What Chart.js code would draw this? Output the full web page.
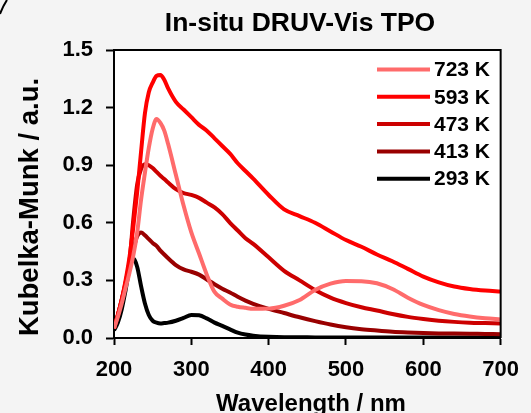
<!DOCTYPE html>
<html>
<head>
<meta charset="utf-8">
<script src="https://cdn.jsdelivr.net/npm/chart.js@4"></script>
<style>
  html, body { margin: 0; padding: 0; background: #f4f4f4; }
  #wrap { width: 531px; height: 413px; position: relative; }
</style>
</head>
<body>
<div id="wrap"><canvas id="c" width="531" height="413"></canvas></div>
<script>
const chartTitle = "In-situ DRUV-Vis TPO";
const xTitle = "Wavelength / nm";
const yTitle = "Kubelka-Munk / a.u.";
const seriesLabels = ["723 K", "593 K", "473 K", "413 K", "293 K"];
const seriesColors = ["#ff6b6b", "#ff0000", "#cc0000", "#990000", "#000000"];
const xTicks = [200, 300, 400, 500, 600, 700];
const yTicks = [0.0, 0.3, 0.6, 0.9, 1.2, 1.5];

const wavelength = [200, 205, 210, 215, 220, 225, 230, 235, 240, 245, 250, 255, 260, 265, 270, 280, 290, 300, 310, 320, 330, 340, 350, 360, 370, 380, 400, 420, 440, 460, 480, 500, 520, 540, 560, 580, 600, 620, 640, 660, 680, 700];

const k723 = [0.05, 0.11, 0.18, 0.26, 0.34, 0.43, 0.55, 0.72, 0.86, 0.99, 1.09, 1.14, 1.12, 1.08, 1.01, 0.85, 0.69, 0.55, 0.44, 0.33, 0.24, 0.205, 0.175, 0.163, 0.157, 0.152, 0.153, 0.168, 0.198, 0.25, 0.283, 0.297, 0.296, 0.285, 0.255, 0.21, 0.172, 0.145, 0.125, 0.112, 0.103, 0.097];
const k593 = [0.05, 0.12, 0.20, 0.30, 0.42, 0.58, 0.76, 0.97, 1.17, 1.28, 1.33, 1.365, 1.37, 1.345, 1.30, 1.23, 1.19, 1.15, 1.11, 1.08, 1.04, 1.00, 0.96, 0.91, 0.87, 0.83, 0.745, 0.67, 0.635, 0.60, 0.555, 0.51, 0.475, 0.435, 0.40, 0.36, 0.32, 0.29, 0.268, 0.255, 0.247, 0.242];
const k473 = [0.05, 0.12, 0.20, 0.29, 0.40, 0.62, 0.80, 0.88, 0.905, 0.90, 0.885, 0.865, 0.845, 0.828, 0.81, 0.775, 0.755, 0.745, 0.73, 0.705, 0.68, 0.645, 0.60, 0.56, 0.52, 0.49, 0.42, 0.35, 0.30, 0.25, 0.21, 0.182, 0.16, 0.143, 0.125, 0.11, 0.099, 0.09, 0.084, 0.08, 0.078, 0.076];
const k413 = [0.05, 0.12, 0.20, 0.28, 0.37, 0.46, 0.53, 0.55, 0.535, 0.515, 0.495, 0.48, 0.455, 0.435, 0.415, 0.38, 0.357, 0.345, 0.33, 0.305, 0.28, 0.257, 0.237, 0.215, 0.195, 0.178, 0.152, 0.13, 0.108, 0.088, 0.07, 0.056, 0.046, 0.039, 0.033, 0.029, 0.026, 0.024, 0.023, 0.022, 0.021, 0.02];
const k293 = [0.04, 0.08, 0.15, 0.25, 0.36, 0.415, 0.37, 0.27, 0.18, 0.12, 0.09, 0.08, 0.076, 0.078, 0.08, 0.09, 0.105, 0.12, 0.118, 0.102, 0.08, 0.063, 0.045, 0.028, 0.018, 0.012, 0.006, 0.004, 0.004, 0.003, 0.003, 0.003, 0.003, 0.003, 0.003, 0.003, 0.003, 0.003, 0.003, 0.003, 0.003, 0.003];

const seriesValues = [k723, k593, k473, k413, k293];

const FONT = "'Liberation Sans', Arial, sans-serif";

function pts(vals) { return wavelength.map((w, i) => ({ x: w, y: vals[i] })); }

const datasets = seriesLabels.map((lab, i) => ({
  label: lab,
  data: pts(seriesValues[i]),
  borderColor: seriesColors[i],
  backgroundColor: seriesColors[i],
  borderWidth: 4,
  pointRadius: 0,
  cubicInterpolationMode: 'monotone',
  fill: false
}));

const decor = {
  id: 'decor',
  beforeDraw(chart) {
    const ctx = chart.ctx, a = chart.chartArea;
    ctx.save();
    ctx.fillStyle = '#f4f4f4';
    ctx.fillRect(0, 0, chart.width, chart.height);
    ctx.fillStyle = '#ffffff';
    ctx.fillRect(a.left, a.top, a.right - a.left, a.bottom - a.top);
    ctx.restore();
  },
  afterDraw(chart) {
    const ctx = chart.ctx, a = chart.chartArea;
    ctx.save();
    ctx.strokeStyle = '#000';
    ctx.lineWidth = 2;
    ctx.beginPath();
    ctx.moveTo(a.left, a.top);
    ctx.lineTo(a.right, a.top);
    ctx.lineTo(a.right, a.bottom);
    ctx.stroke();
    ctx.beginPath();
    ctx.moveTo(0, 14);
    ctx.quadraticCurveTo(3, 6, 7, 0);
    ctx.stroke();
    ctx.fillStyle = '#000';
    ctx.textAlign = 'center';
    ctx.textBaseline = 'alphabetic';
    ctx.font = "bold 26.5px " + FONT;
    ctx.fillText(chartTitle, 300, 31);
    ctx.font = "bold 24px " + FONT;
    ctx.fillText(xTitle, 311, 411);
    ctx.save();
    ctx.translate(38, 207);
    ctx.rotate(-Math.PI / 2);
    ctx.font = "bold 27.5px " + FONT;
    ctx.fillText(yTitle, 0, 0);
    ctx.restore();
    ctx.font = "bold 21px " + FONT;
    ctx.textAlign = 'left';
    ctx.textBaseline = 'middle';
    chart.data.datasets.forEach((ds, i) => {
      const y = 69.5 + i * 27.3;
      ctx.strokeStyle = ds.borderColor;
      ctx.lineWidth = 4;
      ctx.beginPath();
      ctx.moveTo(377, y);
      ctx.lineTo(430, y);
      ctx.stroke();
      ctx.fillStyle = '#000';
      ctx.fillText(ds.label, 434, y + 1);
    });
    ctx.restore();
  }
};

new Chart(document.getElementById('c'), {
  type: 'line',
  data: { datasets },
  options: {
    responsive: false,
    devicePixelRatio: 1,
    animation: false,
    layout: { padding: { top: 50, right: 30, left: 0, bottom: 0 } },
    plugins: { legend: { display: false }, title: { display: false }, tooltip: { enabled: false } },
    scales: {
      x: {
        type: 'linear', min: 200, max: 700,
        afterBuildTicks: (s) => { s.ticks = xTicks.map(v => ({ value: v })); },
        afterFit: (s) => { s.height = 75; },
        ticks: { color: '#000', font: { family: FONT, size: 22, weight: 'bold' }, padding: 12, maxRotation: 0 },
        grid: { drawOnChartArea: false, drawTicks: true, tickLength: 7, tickColor: '#000', tickWidth: 2 },
        border: { display: true, color: '#000', width: 2 }
      },
      y: {
        type: 'linear', min: 0, max: 1.5,
        afterBuildTicks: (s) => { s.ticks = yTicks.map(v => ({ value: v })); },
        afterFit: (s) => { s.width = 114; },
        ticks: { color: '#000', font: { family: FONT, size: 22, weight: 'bold' }, padding: 13, callback: (v) => Number(v).toFixed(1) },
        grid: { drawOnChartArea: false, drawTicks: true, tickLength: 8, tickColor: '#000', tickWidth: 2 },
        border: { display: true, color: '#000', width: 2 }
      }
    }
  },
  plugins: [decor]
});
</script>
</body>
</html>
